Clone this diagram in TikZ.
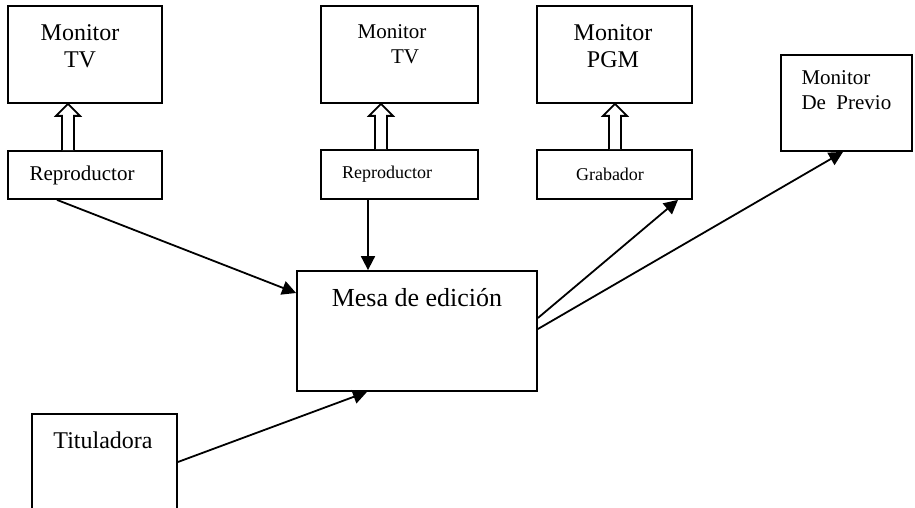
\documentclass[tikz,border=0pt]{standalone}
\usepackage{fontspec}
\setmainfont{Liberation Serif}
\usetikzlibrary{arrows.meta,calc,positioning}

% hollow up arrow: #1 = x, #2 = lower box, #3 = upper box
\newcommand{\hollowup}[3]{%
	\draw [Hollow] ($(#1,0 |- #2.north)+(-6,0)$) -- ($(#1,0 |- #3.south)+(-6,12)$)
		-- ($(#1,0 |- #3.south)+(-12,12)$) -- (#1,0 |- #3.south)
		-- ($(#1,0 |- #3.south)+(12,12)$) -- ($(#1,0 |- #3.south)+(6,12)$)
		-- ($(#1,0 |- #2.north)+(6,0)$);}

\begin{document}
\begin{tikzpicture}[x=0.5pt, y=-0.5pt]
			\tikzstyle{Box}		= [rectangle, draw, line width=0.9pt, fill=white, inner sep=0pt]
			\tikzstyle{Label}	= [inner sep=0pt, align=center]
			\tikzstyle{Big}		= [font=\fontsize{12}{13.5}\selectfont]
			\tikzstyle{Mid}		= [font=\fontsize{10.5}{12.5}\selectfont]
			\tikzstyle{Small}	= [font=\fontsize{9}{11}\selectfont]
			\tikzstyle{Flow}	= [line width=0.9pt, -{Triangle[length=7pt, width=7pt]}]
			\tikzstyle{Hollow}	= [line width=0.9pt, fill=white, line join=miter]

			\useasboundingbox (0,0) rectangle (915,508);
			\clip (0,0) rectangle (915,508);

			% boxes
			\node (mon1) at (85, 54.5)   [Box, minimum width=77pt, minimum height=48.5pt] {};
			\node (rep1) at (85, 175)    [Box, minimum width=77pt, minimum height=24pt] {};
			\node (mon2) at (399.5, 54.5) [Box, minimum width=78.5pt, minimum height=48.5pt] {};
			\node (rep2) at (399.5, 174.5) [Box, minimum width=78.5pt, minimum height=24.5pt] {};
			\node (pgm)  at (614.5, 54.5) [Box, minimum width=77.5pt, minimum height=48.5pt] {};
			\node (grab) at (614.5, 174.5) [Box, minimum width=77.5pt, minimum height=24.5pt] {};
			\node (prev) at (846.5, 103)  [Box, minimum width=65.5pt, minimum height=48pt] {};
			\node (mesa) at (417, 331)    [Box, minimum width=120pt, minimum height=60pt] {};
			\node (tit)  at (104.5, 472)  [Box, minimum width=72.5pt, minimum height=58pt] {};

			% texts
			\node (mon1t) at ([xshift=-2.5pt, yshift=4pt]mon1.center) [Label, Big] {Monitor\\TV};
			\node (rep1t) at ([xshift=-1.5pt]rep1.center) [Label, Mid] {Reproductor};
			\node (mon2t) at ([xshift=-3.75pt, yshift=5pt]mon2.center) [Label, Mid] {Monitor\\\hspace*{13pt}TV};
			\node (rep2t) at ([xshift=-6.25pt]rep2.center) [Label, Small] {Reproductor};
			\node (pgmt)  at ([xshift=-0.75pt, yshift=4pt]pgm.center) [Label, Big] {Monitor\\PGM};
			\node (grabt) at ([xshift=-2.25pt]grab.center) [Label, Small] {Grabador};
			\node (prevt) at ([xshift=10.5pt, yshift=6.25pt]prev.west) [Label, Mid, anchor=west, align=left] {Monitor\\De\ \ Previo};
			\node (mesat) at ([yshift=16.5pt]mesa.center) [Label, font=\fontsize{13}{15}\selectfont] {Mesa de edición};
			\node (titt)  at ([xshift=-0.75pt, yshift=16pt]tit.center) [Label, Big] {Tituladora};

			% hollow arrows
			\hollowup{68}{rep1}{mon1}
			\hollowup{381}{rep2}{mon2}
			\hollowup{615}{grab}{pgm}

			% signal flow
			\draw [Flow] ([xshift=-14pt]rep1.south) to ([yshift=19pt]mesa.west);
			\draw [Flow] ([xshift=-15.75pt]rep2.south) to ([xshift=-15.75pt]rep2.south |- mesa.north);
			\draw [Flow] ([yshift=6.5pt]mesa.east) to ([xshift=31.75pt]grab.south);
			\draw [Flow] ([yshift=1pt]mesa.east) to ([xshift=-1.75pt]prev.south);
			\draw [Flow] ([yshift=5pt]tit.east) to ([xshift=-25pt]mesa.south);
		\end{tikzpicture}
\end{document}
